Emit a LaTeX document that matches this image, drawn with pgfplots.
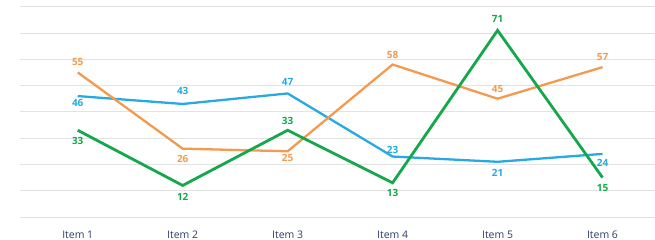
\documentclass[border=0pt]{standalone}
\usepackage{fontspec}
\setmainfont{Open Sans}
\usepackage{pgfplots}
\pgfplotsset{compat=1.18}
\usepackage{pgfplotstable}
\definecolor{cblue}{HTML}{27A9E1}
\definecolor{corange}{HTML}{F39A4F}
\definecolor{cgreen}{HTML}{14A84A}
\definecolor{cnavy}{HTML}{2B3A6B}
\pgfplotstableread{
x y dy
1 46 -7
2 43 13
3 47 12
4 23 7
5 21 -11
6 24 -9
}\blueT
\pgfplotstableread{
x y dy
1 55 10
2 26 -10.5
3 25 -7
4 58 9.5
5 45 9.5
6 57 10
}\orangeT
\pgfplotstableread{
x y dy
1 33 -11
2 12 -11.5
3 33 9.5
4 13 -10
5 71 11
6 15 -10.5
}\greenT
\begin{document}
\begin{tikzpicture}
\begin{axis}[
  scale only axis, width=635bp, height=210.3bp,
  xmin=0.45, xmax=6.5, ymin=0, ymax=80,
  ytick={0,10,...,80}, yticklabels={},
  xtick={1,...,6}, xticklabels={Item 1,Item 2,Item 3,Item 4,Item 5,Item 6},
  xticklabel style={anchor=base, yshift=-21bp, font=\fontsize{10.5}{12}\selectfont, text=cnavy},
  ymajorgrids, grid style={color=black!11, line width=0.8pt},
  axis line style={draw=none}, major tick length=0pt,
  clip=false,
  /pgf/number format/assume math mode=true,
  every axis plot/.append style={
    visualization depends on={\thisrow{dy} \as \dy},
    nodes near coords,
    nodes near coords style={anchor=center, yshift=\dy bp, font=\fontsize{10}{11}\selectfont\bfseries},
  },
]
\addplot[cblue, line width=2.3pt, mark=none, nodes near coords style={text=cblue}] table[x=x,y=y] {\blueT};
\addplot[corange, line width=2.3pt, mark=none, nodes near coords style={text=corange}] table[x=x,y=y] {\orangeT};
\addplot[cgreen, line width=2.8pt, mark=none, nodes near coords style={text=cgreen}] table[x=x,y=y] {\greenT};
\coordinate (sw) at (rel axis cs:0,0);
\coordinate (ne) at (rel axis cs:1,1);
\end{axis}
\pgfresetboundingbox
\path[use as bounding box] ([xshift=-20bp,yshift=-23bp]sw) rectangle ([yshift=6.7bp]ne);
\end{tikzpicture}
\end{document}
